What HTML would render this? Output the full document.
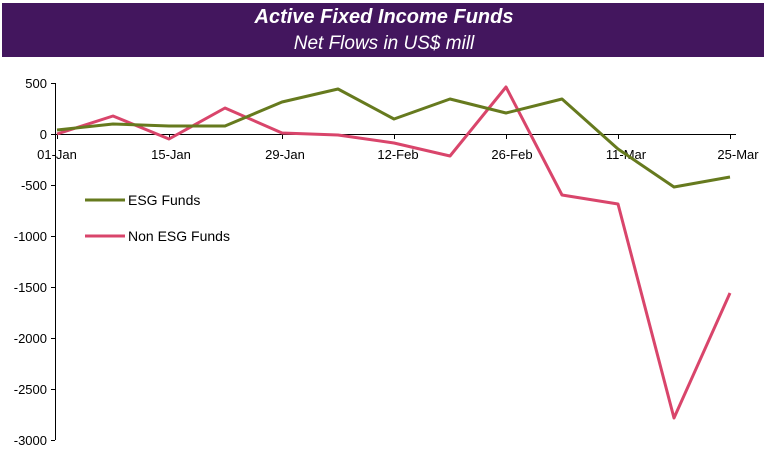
<!DOCTYPE html>
<html><head><meta charset="utf-8"><style>
html,body{margin:0;padding:0;background:#fff;}
svg{display:block;font-family:"Liberation Sans",Arial,sans-serif;}
</style></head><body>
<svg width="768" height="471" viewBox="0 0 768 471" xmlns="http://www.w3.org/2000/svg">
<rect x="0" y="0" width="768" height="471" fill="#fff"/>
<rect x="2" y="3" width="762" height="54" fill="#43165e"/>
<text x="384" y="23" text-anchor="middle" fill="#fff" font-size="20" font-weight="bold" font-style="italic">Active Fixed Income Funds</text>
<text x="384" y="49" text-anchor="middle" fill="#fff" font-size="19" font-style="italic">Net Flows in US$ mill</text>
<g stroke="#000" stroke-width="1">
<line x1="55.5" y1="83" x2="55.5" y2="440"/>
<line x1="51" y1="83.5" x2="55" y2="83.5"/>
<line x1="51" y1="134.5" x2="55" y2="134.5"/>
<line x1="51" y1="185.5" x2="55" y2="185.5"/>
<line x1="51" y1="236.5" x2="55" y2="236.5"/>
<line x1="51" y1="287.5" x2="55" y2="287.5"/>
<line x1="51" y1="338.5" x2="55" y2="338.5"/>
<line x1="51" y1="389.5" x2="55" y2="389.5"/>
<line x1="51" y1="440.5" x2="55" y2="440.5"/>
<line x1="55" y1="134.5" x2="736" y2="134.5"/>
<line x1="57.5" y1="134" x2="57.5" y2="139"/>
<line x1="169.5" y1="134" x2="169.5" y2="139"/>
<line x1="282.5" y1="134" x2="282.5" y2="139"/>
<line x1="394.5" y1="134" x2="394.5" y2="139"/>
<line x1="506.5" y1="134" x2="506.5" y2="139"/>
<line x1="618.5" y1="134" x2="618.5" y2="139"/>
<line x1="730.5" y1="134" x2="730.5" y2="139"/>
</g>
<g font-size="13" text-anchor="end" fill="#000">
<text x="47" y="88">500</text>
<text x="47" y="139">0</text>
<text x="47" y="190">-500</text>
<text x="47" y="241">-1000</text>
<text x="47" y="292">-1500</text>
<text x="47" y="343">-2000</text>
<text x="47" y="394">-2500</text>
<text x="47" y="445">-3000</text>
</g>
<g font-size="13" text-anchor="middle" fill="#000">
<text x="57" y="159">01-Jan</text>
<text x="171" y="159">15-Jan</text>
<text x="285" y="159">29-Jan</text>
<text x="398" y="159">12-Feb</text>
<text x="512" y="159">26-Feb</text>
<text x="626" y="159">11-Mar</text>
<text x="738" y="159">25-Mar</text>
</g>
<polyline fill="none" stroke="#d9456b" stroke-width="3" stroke-linejoin="round" points="57,134 113,116 169,139 225,108 282,133 338,135 394,143 450,156 506,87 562,195 618,204 674,418 730,293"/>
<polyline fill="none" stroke="#667a1e" stroke-width="3" stroke-linejoin="round" points="57,130 113,124 169,126 225,126 282,102 338,89 394,119 450,99 506,113 562,99 618,149 674,187 730,177"/>
<line x1="85" y1="200" x2="125" y2="200" stroke="#667a1e" stroke-width="3"/>
<line x1="85" y1="236" x2="125" y2="236" stroke="#d9456b" stroke-width="3"/>
<g font-size="14" fill="#000">
<text x="128" y="205">ESG Funds</text>
<text x="128" y="241">Non ESG Funds</text>
</g>
</svg>
</body></html>
